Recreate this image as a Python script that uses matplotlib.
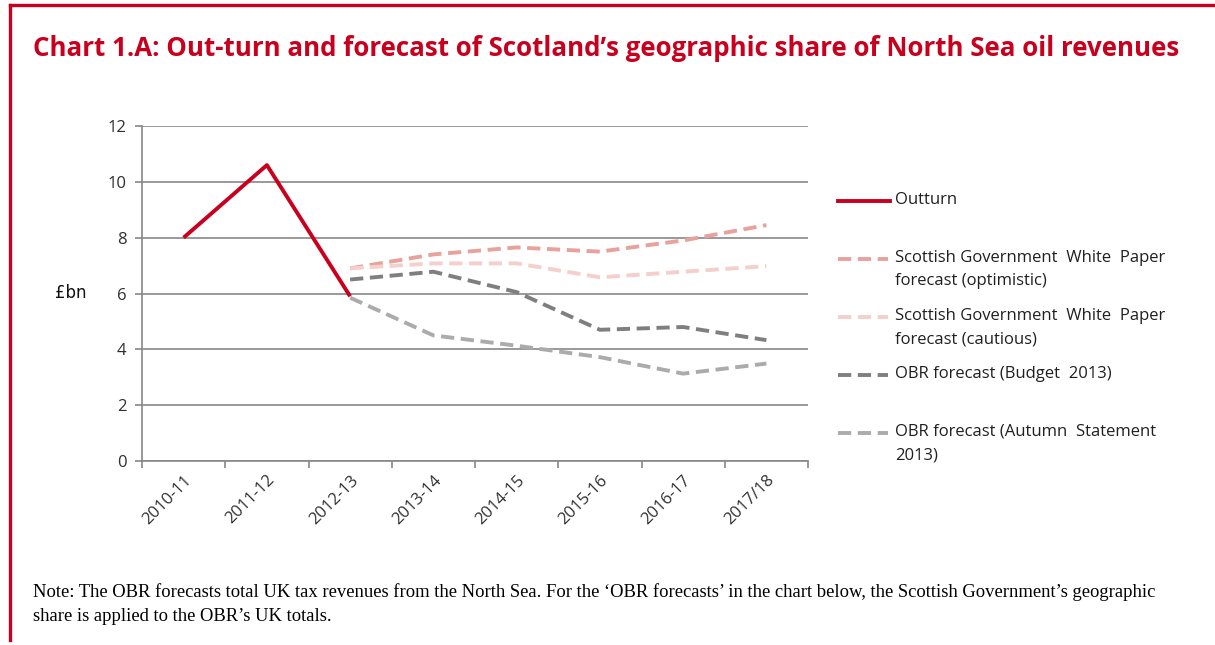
import matplotlib.pyplot as plt
from matplotlib.lines import Line2D
import numpy as np

plt.rcParams['font.family'] = ['Open Sans', 'DejaVu Sans']

# ---------------- data
years = ['2010-11', '2011-12', '2012-13', '2013-14', '2014-15',
         '2015-16', '2016-17', '2017/18']

outturn = [8.0, 10.6, 5.9, None, None, None, None, None]
sg_optimistic = [None, None, 6.9, 7.4, 7.65, 7.5, 7.9, 8.45]
sg_cautious = [None, None, 6.9, 7.08, 7.08, 6.58, 6.78, 6.98]
obr_budget = [None, None, 6.5, 6.78, 6.05, 4.7, 4.8, 4.33]
obr_autumn = [None, None, 5.85, 4.5, 4.13, 3.72, 3.13, 3.49]

labels = ['Outturn',
          'Scottish Government  White  Paper\nforecast (optimistic)',
          'Scottish Government  White  Paper\nforecast (cautious)',
          'OBR forecast (Budget  2013)',
          'OBR forecast (Autumn  Statement\n2013)']
colors = ['#C8001E', '#E8A29C', '#F5CFCB', '#7F7F7F', '#ABABAB']
series = [outturn, sg_optimistic, sg_cautious, obr_budget, obr_autumn]

W, H = 1215, 645
fig = plt.figure(figsize=(W / 100, H / 100), dpi=100)

# red frame (top and left)
fig.add_artist(Line2D([10 / W, 1], [1 - 5 / H, 1 - 5 / H], color='#C8001E', lw=2.4))
fig.add_artist(Line2D([10 / W, 10 / W], [1 - 5 / H, 1 - 640 / H], color='#C8001E', lw=2.4))

fig.text(33 / W, 1 - 48 / H,
         'Chart 1.A: Out-turn and forecast of Scotland\u2019s geographic share of North Sea oil revenues',
         color='#C8001E', fontsize=18.6, fontweight='bold', va='center', ha='left')

ax = fig.add_axes([142 / W, 1 - 461 / H, (808 - 142) / W, (461 - 126) / H])

x = np.arange(len(years))
for i, (vals, c) in enumerate(zip(series, colors)):
    y = np.array([np.nan if v is None else v for v in vals], dtype=float)
    if i == 0:
        ax.plot(x, y, color=c, lw=2.8, solid_capstyle='butt', zorder=5)
    else:
        ax.plot(x, y, color=c, lw=2.8, dashes=(3.4, 1.7), zorder=4)

ax.set_xlim(-0.5, len(years) - 0.5)
ax.set_ylim(0, 12)
ax.set_yticks(range(0, 13, 2))
ax.yaxis.grid(True, color='#888888', lw=1.2)
ax.set_axisbelow(True)

ax.set_xticks(np.arange(len(years) + 1) - 0.5, minor=False)
ax.set_xticklabels([])
ax.set_xticks(x, minor=True)
ax.set_xticklabels(years, minor=True, rotation=45, ha='right', va='top',
                   rotation_mode='anchor', fontsize=12, color='#303030')
ax.tick_params(axis='x', which='major', length=5, color='#888888', width=1.2)
ax.tick_params(axis='x', which='minor', length=0, pad=8)
ax.tick_params(axis='y', length=5, color='#888888', width=1.2, labelsize=12,
               labelcolor='#303030', pad=6)

for s in ['top', 'right']:
    ax.spines[s].set_visible(False)
for s in ['left', 'bottom']:
    ax.spines[s].set_color('#888888')
    ax.spines[s].set_linewidth(1.2)

fig.text(55 / W, 1 - 293 / H, '\u00a3bn', fontsize=12, family='DejaVu Sans',
         va='center', ha='left', color='#111111')

# legend drawn by hand so entries keep an even pitch
for k, (lab, c) in enumerate(zip(labels, colors)):
    yy = 1 - (201 + 58 * k) / H
    if k == 0:
        fig.add_artist(Line2D([838 / W, 890 / W], [yy, yy], color=c, lw=2.8))
    else:
        fig.add_artist(Line2D([838 / W, 888 / W], [yy, yy], color=c, lw=2.8,
                              dashes=(3.4, 1.7)))
    fig.text(895 / W, yy + 9 / H, lab, fontsize=12, color='#202020',
             va='top', ha='left', linespacing=1.6)

fig.text(33 / W, 1 - 604 / H,
         'Note: The OBR forecasts total UK tax revenues from the North Sea. For the \u2018OBR forecasts\u2019 '
         'in the chart below, the Scottish Government\u2019s geographic\nshare is applied to the OBR\u2019s UK totals.',
         family='Liberation Serif', fontsize=13.4, va='center', ha='left', linespacing=1.55,
         color='#000000')

fig.savefig('out.png', dpi=100)
